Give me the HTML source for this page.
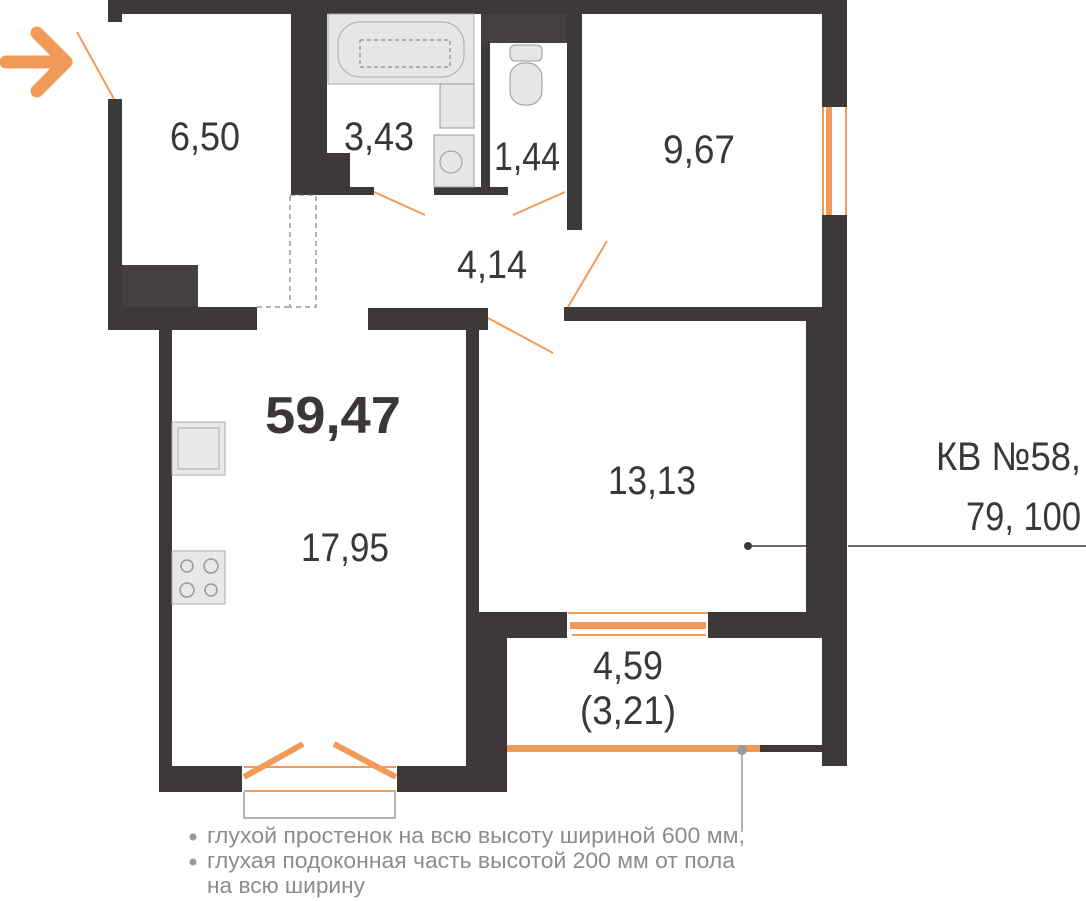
<!DOCTYPE html>
<html><head><meta charset="utf-8"><style>
html,body{margin:0;padding:0;background:#fff;}
svg{display:block;}
text{font-family:"Liberation Sans","DejaVu Sans",sans-serif;fill:#3b3737;}
</style></head><body>
<svg width="1086" height="901" viewBox="0 0 1086 901" xmlns="http://www.w3.org/2000/svg">
<g fill="#3d3938">
 <rect x="108" y="0" width="739" height="14"/>
 <rect x="108" y="0" width="14" height="22"/>
 <rect x="108" y="99" width="14" height="231"/>
 <rect x="108" y="307" width="149" height="23"/>
 <rect x="122" y="265" width="76" height="42" fill="#45403f"/>
 <rect x="291" y="14" width="36" height="173"/>
 <rect x="291" y="153" width="59" height="34"/>
 <rect x="291" y="187" width="83" height="8"/>
 <rect x="481" y="14" width="9" height="181"/>
 <rect x="481" y="14" width="86" height="29" fill="#45403f"/>
 <rect x="434" y="187" width="74" height="8"/>
 <rect x="567" y="14" width="15" height="216"/>
 <rect x="822" y="0" width="25" height="107"/>
 <rect x="822" y="215" width="25" height="106"/>
 <rect x="368" y="308" width="120" height="22"/>
 <rect x="564" y="307" width="283" height="14"/>
 <rect x="466" y="308" width="13" height="330"/>
 <rect x="806" y="321" width="41" height="317"/>
 <rect x="466" y="612" width="101" height="26"/>
 <rect x="708" y="612" width="139" height="26"/>
 <rect x="466" y="612" width="41" height="180"/>
 <rect x="822" y="612" width="25" height="154"/>
 <rect x="760" y="745" width="62" height="7"/>
 <rect x="159" y="330" width="13" height="462"/>
 <rect x="159" y="766" width="83" height="26"/>
 <rect x="397" y="766" width="110" height="26"/>
</g>
<rect x="328" y="14" width="146" height="70" fill="#e6e6e6" stroke="#aaa" stroke-width="1"/>
<rect x="338" y="22" width="126" height="55" rx="22" fill="none" stroke="#aaa"/>
<rect x="360" y="40" width="90" height="27" fill="none" stroke="#777" stroke-dasharray="4,3"/>
<rect x="440" y="84" width="34" height="44" fill="#e6e6e6" stroke="#999"/>
<rect x="434" y="135" width="40" height="52" fill="#e6e6e6" stroke="#999"/>
<circle cx="451" cy="162" r="11" fill="none" stroke="#999"/>
<rect x="510" y="45" width="32" height="16" rx="5" fill="#e6e6e6" stroke="#999"/>
<rect x="510" y="63" width="32" height="42" rx="14" fill="#e6e6e6" stroke="#999"/>
<rect x="290" y="195" width="26" height="112" fill="none" stroke="#666" stroke-dasharray="5,4"/>
<line x1="257" y1="307" x2="290" y2="307" stroke="#666" stroke-dasharray="5,4"/>
<rect x="172" y="422" width="53" height="53" fill="#e8e8e8" stroke="#aaa"/>
<rect x="178" y="428" width="41" height="41" fill="none" stroke="#aaa"/>
<rect x="172" y="551" width="53" height="53" fill="#e8e8e8" stroke="#aaa"/>
<g fill="none" stroke="#999" stroke-width="1.5"><circle cx="187" cy="566" r="6"/><circle cx="211" cy="566" r="7"/><circle cx="187" cy="590" r="7"/><circle cx="211" cy="590" r="6"/></g>
<g stroke="#f29b58" stroke-width="2" fill="none">
 <line x1="77" y1="32" x2="114" y2="99"/>
 <line x1="374" y1="192" x2="425" y2="215"/>
 <line x1="513" y1="215" x2="565" y2="192"/>
 <line x1="568" y1="307" x2="607" y2="241"/>
 <line x1="488" y1="318" x2="553" y2="353"/>
</g>
<g fill="#f29b58">
 <rect x="826" y="107" width="6" height="108"/>
 <rect x="822" y="107" width="2" height="108"/>
 <rect x="845" y="107" width="2" height="108"/>
 <rect x="568" y="612" width="140" height="2"/>
 <rect x="570" y="622" width="136" height="7"/>
 <rect x="572" y="634" width="134" height="2"/>
 <rect x="507" y="745" width="253" height="7"/>
 <rect x="244" y="766" width="152" height="2"/>
 <rect x="244" y="790" width="152" height="2"/>
</g>
<g stroke="#f29b58" stroke-width="6" stroke-linecap="butt">
 <line x1="244" y1="777" x2="303" y2="744"/>
 <line x1="396" y1="777" x2="334" y2="744"/>
</g>
<polyline points="244,792 244,818 395,818 395,792" fill="none" stroke="#999" stroke-width="1.5"/>
<g stroke="#f29b58" stroke-width="13" stroke-linecap="round" stroke-linejoin="round" fill="none">
 <line x1="6" y1="62" x2="66" y2="62"/>
 <polyline points="37,33 66,62 37,91"/>
</g>
<line x1="748" y1="546" x2="806" y2="546" stroke="#3d3938" stroke-width="1.5"/>
<line x1="848" y1="546" x2="1086" y2="546" stroke="#3d3938" stroke-width="1.5"/>
<circle cx="748" cy="546" r="4" fill="#3d3938"/>
<line x1="742" y1="750" x2="742" y2="832" stroke="#999" stroke-width="1.5"/>
<circle cx="742" cy="750" r="5" fill="#999"/>
<g font-size="40">
 <text x="205" y="150" text-anchor="middle" textLength="70" lengthAdjust="spacingAndGlyphs">6,50</text>
 <text x="379" y="150" text-anchor="middle" textLength="70" lengthAdjust="spacingAndGlyphs">3,43</text>
 <text x="527" y="170" text-anchor="middle" textLength="66" lengthAdjust="spacingAndGlyphs">1,44</text>
 <text x="699" y="163" text-anchor="middle" textLength="72" lengthAdjust="spacingAndGlyphs">9,67</text>
 <text x="492" y="278" text-anchor="middle" textLength="70" lengthAdjust="spacingAndGlyphs">4,14</text>
 <text x="345" y="561" text-anchor="middle" textLength="88" lengthAdjust="spacingAndGlyphs">17,95</text>
 <text x="652" y="494" text-anchor="middle" textLength="88" lengthAdjust="spacingAndGlyphs">13,13</text>
 <text x="628" y="679" text-anchor="middle" textLength="70" lengthAdjust="spacingAndGlyphs">4,59</text>
 <text x="628" y="724" text-anchor="middle" textLength="96" lengthAdjust="spacingAndGlyphs">(3,21)</text>
 <text x="1081" y="470" text-anchor="end" textLength="145" lengthAdjust="spacingAndGlyphs">КВ №58,</text>
 <text x="1081" y="530" text-anchor="end" textLength="115" lengthAdjust="spacingAndGlyphs">79, 100</text>
</g>
<text x="333" y="433" text-anchor="middle" font-size="52" font-weight="bold" textLength="136" lengthAdjust="spacingAndGlyphs">59,47</text>
<g font-size="22">
 <circle cx="193" cy="837" r="3.5" fill="#999"/>
 <circle cx="193" cy="862" r="3.5" fill="#999"/>
 <text x="207" y="843" style="fill:#8c8c8c" textLength="538" lengthAdjust="spacingAndGlyphs">глухой простенок на всю высоту шириной 600 мм,</text>
 <text x="207" y="868" style="fill:#8c8c8c" textLength="528" lengthAdjust="spacingAndGlyphs">глухая подоконная часть высотой 200 мм от пола</text>
 <text x="207" y="893" style="fill:#8c8c8c" textLength="158" lengthAdjust="spacingAndGlyphs">на всю ширину</text>
</g>
</svg>
</body></html>
